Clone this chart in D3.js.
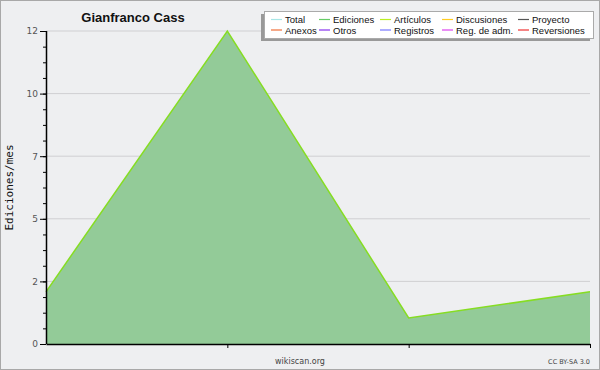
<!DOCTYPE html>
<html>
<head>
<meta charset="utf-8">
<script src="https://cdn.jsdelivr.net/npm/d3@7"></script>
<style>
  body { margin: 0; background: #fff; }
  svg { display: block; font-family: "DejaVu Sans", sans-serif; }
</style>
</head>
<body>
<div id="chart"></div>
<script>
// data
var months = ["m1", "m2", "m3", "m4"];
var ediciones = [2, 12, 1, 2];
var yTicks = [0, 2.4, 4.8, 7.2, 9.6, 12];
var legendNames = ["Total", "Anexos", "Ediciones", "Otros", "Artículos", "Registros",
                   "Discusiones", "Reg. de adm.", "Proyecto", "Reversiones"];
var legendColors = ["#a8e6e6", "#f0703a", "#66cc66", "#8833ee", "#bbee22", "#7777ff",
                    "#ffcc22", "#dd44ee", "#555555", "#ee3333"];

var width = 600, height = 370;
var margin = {top: 31, left: 46, right: 10, bottom: 26};
var w = width - margin.left - margin.right;
var h = height - margin.top - margin.bottom;

var svg = d3.select("#chart").append("svg")
    .attr("width", width)
    .attr("height", height);

svg.append("rect")
    .attr("x", 0.5).attr("y", 0.5)
    .attr("width", width - 1).attr("height", height - 1)
    .attr("fill", "#eeeff1")
    .attr("stroke", "#a8a8a8");

var g = svg.append("g")
    .attr("transform", "translate(" + margin.left + "," + margin.top + ")");

var x = d3.scalePoint().domain(months).range([0, w]);
var y = d3.scaleLinear().domain([0, 12]).range([h, 0]);

// grid lines
g.selectAll(".grid")
    .data(yTicks.slice(1))
    .enter().append("line")
    .attr("class", "grid")
    .attr("x1", 0).attr("x2", w)
    .attr("y1", function(d) { return y(d); })
    .attr("y2", function(d) { return y(d); })
    .attr("stroke", "#cfcfd2")
    .attr("stroke-width", 1);

// area
var pts = months.map(function(m, i) { return {key: m, value: ediciones[i]}; });

var area = d3.area()
    .x(function(d) { return x(d.key); })
    .y0(h)
    .y1(function(d) { return y(d.value); });

var line = d3.line()
    .x(function(d) { return x(d.key); })
    .y(function(d) { return y(d.value); });

g.append("path")
    .attr("d", area(pts))
    .attr("fill", "#93cb98");

g.append("path")
    .attr("d", line(pts))
    .attr("fill", "none")
    .attr("stroke", "#86dd22")
    .attr("stroke-width", 1.5);

// axes
var minor = d3.range(0, 12.001, 0.6);
var yMinor = g.append("g")
    .call(d3.axisLeft(y).tickValues(minor).tickSize(3).tickFormat(""));
yMinor.select(".domain").remove();

var yAxis = g.append("g")
    .call(d3.axisLeft(y).tickValues(yTicks).tickSize(6).tickPadding(2)
      .tickFormat(function(d) { return Math.round(d); }));
yAxis.select(".domain").attr("d", "M0.5," + h + "V0");
yAxis.selectAll("text").attr("fill", "#555").attr("font-size", 9)
    .attr("font-family", "DejaVu Sans");

var xAxis = g.append("g")
    .attr("transform", "translate(0," + h + ")")
    .call(d3.axisBottom(x).tickSize(4).tickFormat("").tickSizeOuter(0));
xAxis.selectAll(".tick").filter(function(d, i) { return i == 0; }).remove();
xAxis.select(".domain").attr("stroke-width", 1.5);
yAxis.select(".domain").attr("stroke-width", 1.5);

// title and labels
svg.append("text")
    .attr("x", 133).attr("y", 22)
    .attr("text-anchor", "middle")
    .attr("font-weight", "bold")
    .attr("font-size", 13)
    .attr("font-family", "Liberation Sans")
    .attr("fill", "#111")
    .text("Gianfranco Cass");

svg.append("text")
    .attr("transform", "translate(13," + (margin.top + h / 2) + ") rotate(-90)")
    .attr("text-anchor", "middle")
    .attr("font-size", 11)
    .attr("font-family", "DejaVu Sans Mono")
    .attr("fill", "#111")
    .text("Ediciones/mes");

svg.append("text")
    .attr("x", 300).attr("y", 364)
    .attr("text-anchor", "middle")
    .attr("font-size", 8)
    .attr("fill", "#444")
    .text("wikiscan.org");

svg.append("text")
    .attr("x", 590).attr("y", 364)
    .attr("text-anchor", "end")
    .attr("font-size", 6.5)
    .attr("fill", "#444")
    .text("CC BY-SA 3.0");

// legend
var lg = svg.append("g").attr("transform", "translate(264,11)");
lg.append("rect")
    .attr("x", -3).attr("y", 3).attr("width", 329).attr("height", 27)
    .attr("fill", "#999");
lg.append("rect")
    .attr("x", 0.5).attr("y", 0.5).attr("width", 329).attr("height", 27)
    .attr("fill", "#fff").attr("stroke", "#aaa");

var colX = [7, 55, 116, 178, 254];
var items = lg.selectAll(".item")
    .data(legendNames)
    .enter().append("g")
    .attr("class", "item")
    .attr("transform", function(d, i) {
      return "translate(" + colX[Math.floor(i / 2)] + "," + (i % 2 == 0 ? 8.5 : 19) + ")";
    });

items.append("line")
    .attr("x1", 0).attr("x2", 11)
    .attr("y1", 0).attr("y2", 0)
    .attr("stroke", function(d, i) { return legendColors[i]; })
    .attr("stroke-width", 1.2);

items.append("text")
    .attr("x", 14).attr("y", 3.5)
    .attr("font-size", 9.5)
    .attr("font-family", "Liberation Sans")
    .attr("fill", "#111")
    .text(function(d) { return d; });
</script>
</body>
</html>
